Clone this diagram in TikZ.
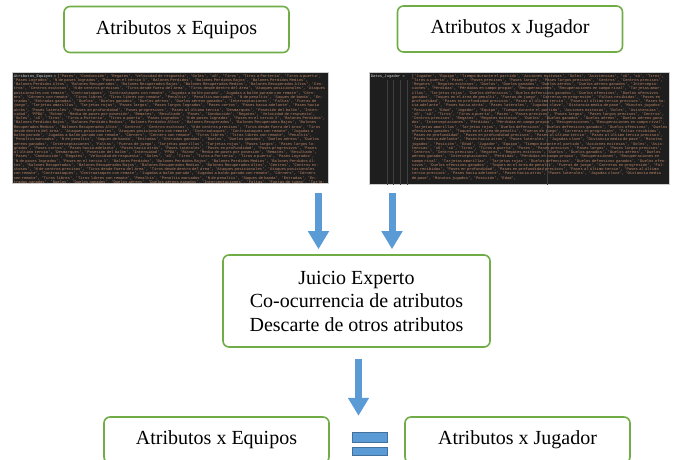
\documentclass[tikz,border=0pt]{standalone}
\usepackage{fontspec}
\setmainfont{Liberation Serif}
\newfontfamily\codigo{Liberation Mono}
\usetikzlibrary{arrows.meta}

\definecolor{verdecaja}{RGB}{112,173,71}
\definecolor{azulflecha}{RGB}{91,155,213}
\definecolor{azulborde}{RGB}{65,113,156}
\definecolor{fondocodigo}{RGB}{30,30,30}
\definecolor{textocodigo}{RGB}{196,136,104}
\definecolor{nombrecodigo}{RGB}{212,212,212}
\definecolor{guiacodigo}{RGB}{64,64,64}

\newcommand\listaequipos{'Pases', 'Conducción', 'Regates', 'Velocidad de respuesta', 'Goles', 'xG', 'Tiros', 'Tiros a Portería', 'Tiros a puerta', 'Pases Logrados', 'N de pases logrados', 'Pases en el tercio 3', 'Balones Perdidos', 'Balones Perdidos Bajos', 'Balones Perdidos Medios', 'Balones Perdidos Altos', 'Balones Recuperados', 'Balones Recuperados Bajos', 'Balones Recuperados Medios', 'Balones Recuperados Altos', 'Centros', 'Centros exitosos', 'N de centros precisos', 'Tiros desde fuera del área', 'Tiros desde dentro del área', 'Ataques posicionales', 'Ataques posicionales con remate', 'Contraataques', 'Contraataques con remate', 'Jugadas a balón parado', 'Jugadas a balón parado con remate', 'Córners', 'Córners con remate', 'Tiros libres', 'Tiros libres con remate', 'Penaltis', 'Penaltis marcados', 'N de penaltis', 'Saques de banda', 'Entradas', 'Entradas ganadas', 'Duelos', 'Duelos ganados', 'Duelos aéreos', 'Duelos aéreos ganados', 'Interceptaciones', 'Faltas', 'Fueras de juego', 'Tarjetas amarillas', 'Tarjetas rojas', 'Pases largos', 'Pases largos logrados', 'Pases cortos', 'Pases hacia adelante', 'Pases hacia atrás', 'Pases laterales', 'Pases en profundidad', 'Pases progresivos', 'Pases al último tercio', 'Desmarques', 'Posesión del balón', 'Intensidad', 'PPDA', 'Ritmo', 'Media de pases por posesión', 'Remates', 'Resultado', }
\newcommand\listajugador{'Jugador', 'Equipo', 'Tiempo durante el partido', 'Acciones exitosas', 'Goles', 'Asistencias', 'xG', 'xA', 'Tiros', 'Tiros a puerta', 'Pases', 'Pases precisos', 'Pases largos', 'Pases largos precisos', 'Centros', 'Centros precisos', 'Regates', 'Regates exitosos', 'Duelos', 'Duelos ganados', 'Duelos aéreos', 'Duelos aéreos ganados', 'Interceptaciones', 'Pérdidas', 'Pérdidas en campo propio', 'Recuperaciones', 'Recuperaciones en campo rival', 'Tarjetas amarillas', 'Tarjetas rojas', 'Duelos defensivos', 'Duelos defensivos ganados', 'Duelos ofensivos', 'Duelos ofensivos ganados', 'Toques en el área de penalti', 'Fueras de juego', 'Carreras en progresión', 'Faltas recibidas', 'Pases en profundidad', 'Pases en profundidad precisos', 'Pases al último tercio', 'Pases al último tercio precisos', 'Pases hacia adelante', 'Pases hacia atrás', 'Pases laterales', 'Jugadas clave', 'Distancia media de pase', 'Minutos jugados', 'Posición', 'Edad', }

\tikzset{
    caja/.style = {draw = verdecaja, line width = 1.6pt, rounded corners = 6pt, fill = white,
        minimum width = 225pt, minimum height = 46pt, inner sep = 0pt,
        font = \fontsize{20}{23.5}\selectfont},
    captura/.style = {draw = black!20, line width = 0.8pt, fill = fondocodigo, inner sep = 0pt},
    codigo/.style = {inner sep = 0pt, anchor = north west, align = left, text = textocodigo,
        font = \codigo\fontsize{3.8}{4.25}\selectfont},
    guia/.style = {draw = guiacodigo, line width = 0.5pt},
    flecha/.style = {draw = azulflecha, line width = 7pt, shorten > = 5pt,
        -{Triangle[width = 20pt, length = 18pt]}},
    barra/.style = {draw = azulborde, line width = 0.8pt, fill = azulflecha},
}

\begin{document}
\begin{tikzpicture}[x = 1pt, y = -1pt]
    \useasboundingbox (0, 0) rectangle (673, 460);
    \clip (0, 0) rectangle (673, 460);

    % cajas de arriba
    \node[caja] (eqsup) at (176.5, 29.5) {Atributos x Equipos};
    \node[caja] (jugsup) at (510, 29) {Atributos x Jugador};

    % capturas del codigo
    \node[captura, minimum width = 316pt, minimum height = 111pt] (capeq) at (170, 127.5) {};
    \node[captura, minimum width = 300pt, minimum height = 112pt] (capjug) at (519, 128) {};
    \begin{scope}
        \clip (capeq.north west) rectangle (capeq.south east);
        \node[codigo, text width = 312pt] (txteq) at ([shift = {(2pt, -2.5pt)}]capeq.north west)
            {\hangindent = 6pt \hangafter = 1 \textcolor{nombrecodigo}{Atributos\_Equipos =} [\listaequipos\listaequipos\listaequipos};
    \end{scope}
    \begin{scope}
        \clip (capjug.north west) rectangle (capjug.south east);
        \foreach \x in {387, 393, 400, 407} {\draw[guia] (\x, 80) -- (\x, 185);}
        \draw[guia] (547, 76) -- (547, 185);
        \node[codigo, text = nombrecodigo] (nomjug) at ([shift = {(2pt, -2.5pt)}]capjug.north west) {Datos\_Jugador =};
        \node[codigo, text width = 256pt] (txtjug) at ([shift = {(43pt, -2.5pt)}]capjug.north west)
            {[\listajugador\listajugador\listajugador};
    \end{scope}

    % juicio
    \node[caja, minimum width = 267pt, minimum height = 92pt, align = center] (juicio) at (356.5, 301)
        {Juicio Experto\\Co-ocurrencia de atributos\\Descarte de otros atributos};

    \coordinate (salidaeq) at (318.5, 193);
    \coordinate (salidajug) at (392, 193);
    \draw[flecha] (salidaeq) -- (salidaeq |- juicio.north);
    \draw[flecha] (salidajug) -- (salidajug |- juicio.north);

    % resultado
    \node[caja] (eqinf) at (216.5, 440) {Atributos x Equipos};
    \node[caja] (juginf) at (517.5, 440) {Atributos x Jugador};
    \node[minimum width = 34pt, minimum height = 22pt, inner sep = 0pt] (igual) at (370, 444) {};
    \draw[barra] (igual.north west) rectangle ([yshift = -10pt]igual.north east);
    \draw[barra] ([yshift = 8pt]igual.south west) rectangle (igual.south east);

    \coordinate (salidajuicio) at (358.5, 359);
    \draw[flecha, shorten > = 17pt] (salidajuicio) -- (salidajuicio |- igual.north);
\end{tikzpicture}
\end{document}
